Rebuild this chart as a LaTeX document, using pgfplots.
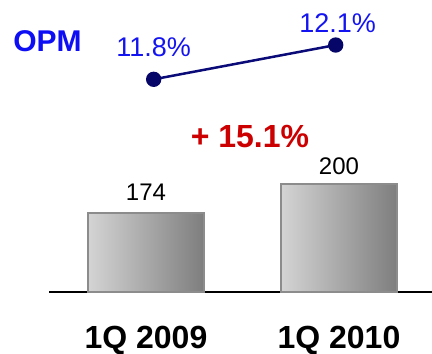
\documentclass[border=0pt]{standalone}
\usepackage{pgfplots}
\pgfplotsset{compat=1.18}
\usepackage{fontspec}
\setmainfont{Liberation Sans}
\definecolor{barL}{HTML}{D4D4D4}
\definecolor{barM}{HTML}{B4B4B4}
\definecolor{barR}{HTML}{7E7E7E}
\definecolor{barE}{HTML}{8C8C8C}
\definecolor{navyL}{HTML}{0A0A78}
\definecolor{navyM}{HTML}{060668}
\definecolor{pctBlue}{HTML}{1414F0}
\definecolor{opmBlue}{HTML}{0E0EF5}
\definecolor{redT}{HTML}{CC0000}
\begin{document}
\begin{tikzpicture}
% bars
\begin{axis}[at={(0,0)}, anchor=south west, scale only axis,
  width=383bp, height=292bp,
  xmin=-0.5026, xmax=1.482, ymin=103.2, ymax=365.1,
  axis y line=none, ytick=\empty,
  axis x line=bottom, x axis line style={-, black, line width=1.2bp},
  xtick={0,1}, xticklabels={1Q 2009,1Q 2010}, major tick length=0pt,
  xticklabel style={font=\fontsize{32bp}{32bp}\selectfont\bfseries, anchor=base, inner sep=0pt, yshift=-56bp},
  ]
\addplot[ybar, bar shift=0pt, bar width=0.6, draw=barE, line width=2bp,
  left color=barL, middle color=barM, right color=barR]
  coordinates {(0,174)};
\addplot[ybar, bar shift=0pt, bar width=0.6, draw=barE, line width=2bp,
  left color=barL, middle color=barM, right color=barR]
  coordinates {(1,200)};
\node[anchor=base, inner sep=0pt, font=\fontsize{24bp}{24bp}\selectfont] at (axis cs:0,174) [yshift=12.5bp] {174};
\node[anchor=base, inner sep=0pt, font=\fontsize{24bp}{24bp}\selectfont] at (axis cs:1,200) [yshift=10bp] {200};
\end{axis}
% OPM line
\begin{axis}[at={(0,0)}, anchor=south west, scale only axis,
  width=383bp, height=292bp,
  xmin=-0.575, xmax=1.529, ymin=9.939, ymax=12.494,
  hide axis, clip=false]
\addplot[navyL, line width=2.5bp, mark=*, mark size=6.4bp,
  mark options={fill=navyM, draw=navyM}]
  coordinates {(0,11.8) (1,12.1)};
\node[anchor=base, inner sep=0pt, text=pctBlue, font=\fontsize{27bp}{27bp}\selectfont] at (axis cs:0,11.8) [yshift=22.8bp] {11.8\%};
\node[anchor=base, inner sep=0pt, text=pctBlue, font=\fontsize{27bp}{27bp}\selectfont] at (axis cs:1,12.1) [xshift=2bp, yshift=13bp] {12.1\%};
\end{axis}
\node[anchor=base, inner sep=0pt, text=opmBlue, font=\fontsize{30bp}{30bp}\selectfont\bfseries] at (-1.5bp,240bp) {OPM};
\node[anchor=base, inner sep=0pt, text=redT, font=\fontsize{32bp}{32bp}\selectfont\bfseries] at (201bp,144bp) {+ 15.1\%};
\pgfresetboundingbox
\path[use as bounding box] (-49bp,-62bp) rectangle (383bp,292bp);
\end{tikzpicture}
\end{document}
